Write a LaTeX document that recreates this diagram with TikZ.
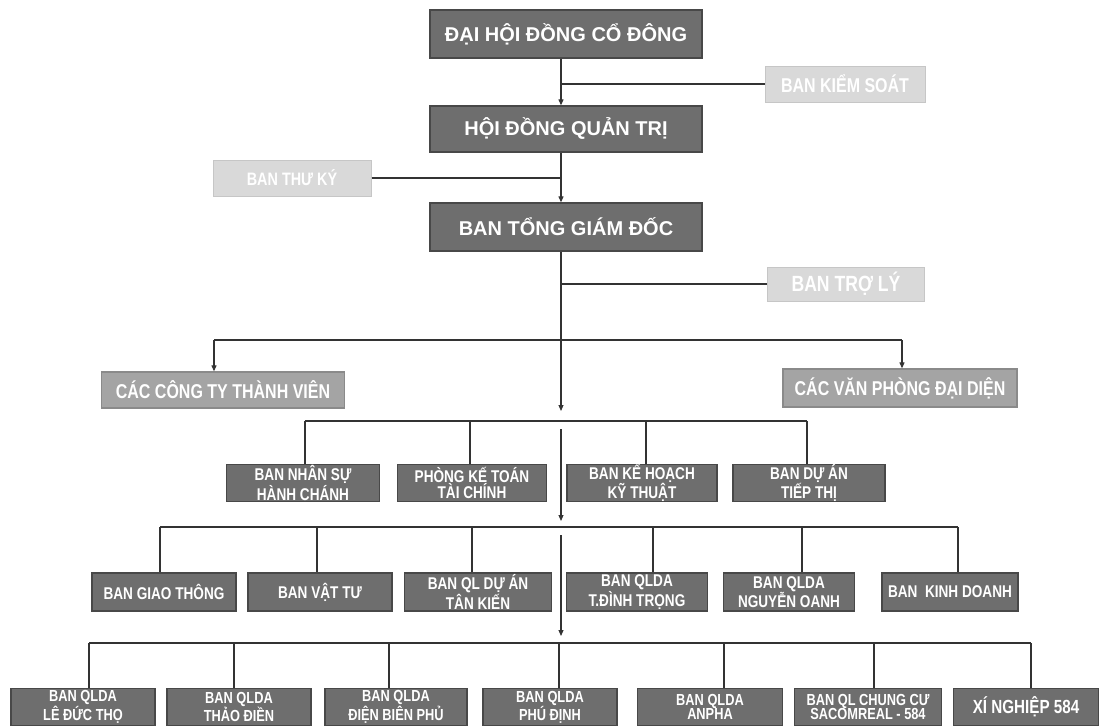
\documentclass[tikz,border=0pt]{standalone}
\usepackage{fontspec}
\setmainfont{Liberation Sans}
\newfontfamily\condfont[FakeStretch=0.80]{Liberation Sans}
\newfontfamily\topfont{Liberation Sans}
\usetikzlibrary{arrows.meta}
\definecolor{boxfill}{HTML}{6E6E6E}
\definecolor{boxedge}{HTML}{484848}
\definecolor{midfill}{HTML}{A4A4A4}
\definecolor{midedge}{HTML}{8A8A8A}
\definecolor{lightfill}{HTML}{D9D9D9}
\definecolor{lightedge}{HTML}{C6C6C6}
\definecolor{linecol}{HTML}{333333}
\begin{document}
\begin{tikzpicture}[x=1pt,y=-1pt,
  darkbox/.style={draw=boxedge, line width=1.3pt, fill=boxfill, text=white, inner sep=0pt, align=center,
    font=\condfont\bfseries\fontsize{17}{15.5}\selectfont},
  lowbox/.style={darkbox, font=\condfont\bfseries\fontsize{16}{14.5}\selectfont},
  topbox/.style={darkbox, font=\topfont\bfseries\fontsize{20}{20}\selectfont, minimum width=272, minimum height=48},
  midbox/.style={darkbox, draw=midedge, fill=midfill, font=\condfont\bfseries\fontsize{20}{20}\selectfont},
  lightbox/.style={draw=lightedge, line width=1pt, fill=lightfill, text=white, inner sep=0pt, align=center,
    font=\condfont\bfseries\fontsize{20}{20}\selectfont},
  conn/.style={draw=linecol, line width=1.1pt},
  arrowline/.style={conn, -{Triangle[length=6pt,width=5pt]}},
]
\useasboundingbox[fill=white] (0,0) rectangle (1100,726);

% top levels
\node[topbox] (dh) at (566,34) {ĐẠI HỘI ĐỒNG CỔ ĐÔNG};
\node[topbox, minimum height=46] (hd) at (566,129) {HỘI ĐỒNG QUẢN TRỊ};
\node[topbox] (bt) at (566,227) {BAN TỔNG GIÁM ĐỐC};
\node[lightbox, minimum width=160, minimum height=36] (bks) at (845,84) {BAN KIỂM SOÁT};
\node[lightbox, minimum width=158, minimum height=36, font=\condfont\bfseries\fontsize{18}{18}\selectfont] (btk) at (292,178) {BAN THƯ KÝ};
\node[lightbox, minimum width=157, minimum height=34, font=\condfont\bfseries\fontsize{22}{22}\selectfont] (btl) at (846,284) {BAN TRỢ LÝ};

% level 3
\node[midbox, minimum width=243, minimum height=36] (cty) at (223,390) {CÁC CÔNG TY THÀNH VIÊN};
\node[midbox, minimum width=234, minimum height=38] (vp) at (900,388) {CÁC VĂN PHÒNG ĐẠI DIỆN};

% level 4
\node[darkbox, minimum width=153, minimum height=37] (n1) at (303,483) {BAN NHÂN SỰ\\HÀNH CHÁNH};
\node[darkbox, minimum width=149, minimum height=37] (n2) at (472,483) {PHÒNG KẾ TOÁN\\TÀI CHÍNH};
\node[darkbox, minimum width=150, minimum height=37] (n3) at (642,483) {BAN KẾ HOẠCH\\KỸ THUẬT};
\node[darkbox, minimum width=152, minimum height=37] (n4) at (809,483) {BAN DỰ ÁN\\TIẾP THỊ};

% level 5
\node[darkbox, minimum width=144, minimum height=38] (m1) at (164,592) {BAN GIAO THÔNG};
\node[darkbox, minimum width=144, minimum height=38] (m2) at (320,592) {BAN VẬT TƯ};
\node[darkbox, minimum width=147, minimum height=38] (m3) at (478,592) {BAN QL DỰ ÁN\\TÂN KIẾN};
\node[darkbox, minimum width=141, minimum height=38] (m4) at (637,592) {BAN QLDA\\T.ĐÌNH TRỌNG};
\node[darkbox, minimum width=131, minimum height=38] (m5) at (789,592) {BAN QLDA\\NGUYỄN OANH};
\node[darkbox, minimum width=136, minimum height=38] (m6) at (950,592) {BAN\ \ KINH DOANH};

% level 6
\node[lowbox, minimum width=144, minimum height=37] (k1) at (83,707) {BAN QLDA\\LÊ ĐỨC THỌ};
\node[lowbox, minimum width=144, minimum height=37] (k2) at (239,707) {BAN QLDA\\THẢO ĐIỀN};
\node[lowbox, minimum width=142, minimum height=37] (k3) at (396,707) {BAN QLDA\\ĐIỆN BIÊN PHỦ};
\node[lowbox, minimum width=134, minimum height=37] (k4) at (550,707) {BAN QLDA\\PHÚ ĐỊNH};
\node[lowbox, minimum width=145, minimum height=37] (k5) at (710,707) {BAN QLDA\\ANPHA};
\node[lowbox, minimum width=147, minimum height=37] (k6) at (868,707) {BAN QL CHUNG CƯ\\SACOMREAL - 584};
\node[lowbox, minimum width=145, minimum height=37, font=\condfont\bfseries\fontsize{19}{19}\selectfont] (k7) at (1026,707) {XÍ NGHIỆP 584};

% trunk and side links
\coordinate (tx) at (561,0);
\draw[arrowline] (dh.south -| tx) -- (hd.north -| tx);
\draw[conn] (bks.west) -- (bks.west -| tx);
\draw[arrowline] (hd.south -| tx) -- (bt.north -| tx);
\draw[conn] (btk.east) -- (btk.east -| tx);
\coordinate (t1) at (561,411);
\draw[arrowline] (bt.south -| tx) -- (t1);
\draw[conn] (btl.west) -- (btl.west -| tx);

% level 3 bus
\coordinate (b3l) at (214,340);
\coordinate (b3r) at (902,340);
\draw[conn] (b3l) -- (b3r);
\draw[arrowline] (b3l) -- (b3l |- cty.north);
\draw[arrowline] (b3r) -- (b3r |- vp.north);

% level 4 bus
\coordinate (d41) at (305,421);
\coordinate (d42) at (470,421);
\coordinate (d43) at (646,421);
\coordinate (d44) at (807,421);
\draw[conn] (d41) -- (d44);
\foreach \d/\n in {d41/n1, d42/n2, d43/n3, d44/n4} \draw[conn] (\d) -- (\d |- \n.north);

\coordinate (t2) at (561,429);
\coordinate (t3) at (561,521);
\draw[arrowline] (t2) -- (t3);

% level 5 bus
\coordinate (d51) at (160,527);
\coordinate (d52) at (317,527);
\coordinate (d53) at (472,527);
\coordinate (d54) at (653,527);
\coordinate (d55) at (802,527);
\coordinate (d56) at (958,527);
\draw[conn] (d51) -- (d56);
\foreach \d/\n in {d51/m1, d52/m2, d53/m3, d54/m4, d55/m5, d56/m6} \draw[conn] (\d) -- (\d |- \n.north);

\coordinate (t4) at (561,535);
\coordinate (t5) at (561,636);
\draw[arrowline] (t4) -- (t5);

% level 6 bus
\coordinate (d61) at (89,643);
\coordinate (d62) at (234,643);
\coordinate (d63) at (389,643);
\coordinate (d64) at (559,643);
\coordinate (d65) at (724,643);
\coordinate (d66) at (874,643);
\coordinate (d67) at (1031,643);
\draw[conn] (d61) -- (d67);
\foreach \d/\n in {d61/k1, d62/k2, d63/k3, d64/k4, d65/k5, d66/k6, d67/k7} \draw[conn] (\d) -- (\d |- \n.north);
\end{tikzpicture}
\end{document}
